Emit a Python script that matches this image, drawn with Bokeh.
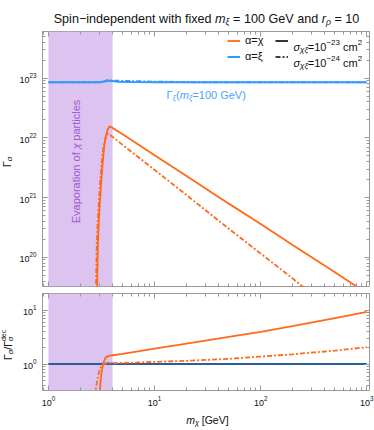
import math
from bokeh.plotting import figure
from bokeh.models import (Range1d, LogAxis, LogTicker, FixedTicker, BoxAnnotation, Label, Legend,
                          LegendItem, CustomJSTickFormatter)
from bokeh.layouts import column, row
from bokeh.embed import file_html
from bokeh.resources import INLINE

# ---------------- data ----------------
# top panel: Gamma_alpha for alpha = chi (sigma = 1e-23 solid, 1e-24 dash-dot)
m_chi_s = [2.85, 2.88, 2.92, 2.98, 3.06, 3.15, 3.25, 3.35, 3.47, 3.60, 3.75, 3.90,
           5, 10, 20, 50, 100, 200, 500, 1000]
g_chi_s = [1.0e19, 4.0e19, 1.6e20, 4.0e20, 8.9e20, 2.0e21, 4.0e21, 7.1e21, 1.07e22,
           1.35e22, 1.55e22, 1.51e22, 1.15e22, 5.1e21, 2.3e21, 7.9e20, 3.6e20,
           1.6e20, 5.6e19, 2.5e19]
m_chi_d = [2.78, 2.81, 2.85, 2.91, 2.99, 3.08, 3.18, 3.30, 3.42, 3.55, 3.67, 3.80,
           5, 10, 20, 50, 100, 200, 500, 1000]
g_chi_d = [1.0e19, 4.0e19, 1.6e20, 4.0e20, 8.9e20, 2.0e21, 4.0e21, 7.1e21, 9.5e21,
           1.12e22, 1.17e22, 1.12e22, 7.6e21, 2.9e21, 1.1e21, 3.0e20, 1.15e20,
           4.4e19, 1.2e19, 4.6e18]
# top panel: Gamma_alpha for alpha = xi
m_xi = [1, 2, 3, 3.3, 3.6, 4.0, 4.5, 6, 10, 30, 100, 1000]
g_xi_s = [8.5e22, 8.5e22, 8.5e22, 8.7e22, 9.0e22, 8.9e22, 8.7e22, 8.6e22, 8.5e22, 8.5e22, 8.5e22, 8.5e22]
g_xi_d = [8.5e22, 8.5e22, 8.5e22, 8.8e22, 9.2e22, 9.1e22, 9.0e22, 8.9e22, 8.7e22, 8.5e22, 8.5e22, 8.5e22]

# bottom panel: Gamma_alpha / Gamma_alpha^dec
m_rat_s = [3.02, 3.07, 3.12, 3.18, 3.27, 3.38, 3.5, 3.7, 4.0, 5, 10, 20, 50, 100, 200, 500, 1000]
r_chi_s = [0.25, 0.38, 0.55, 0.75, 1.0, 1.22, 1.35, 1.42, 1.46, 1.55, 1.93, 2.4, 3.2, 3.98, 5.07, 7.16, 9.29]
m_rat_d = [2.72, 2.78, 2.85, 2.93, 3.02, 3.12, 3.22, 3.35, 3.6, 4.0, 5, 10, 20, 50, 100, 200, 500, 1000]
r_chi_d = [0.25, 0.33, 0.45, 0.6, 0.75, 0.88, 0.97, 1.01, 1.03, 1.04, 1.05, 1.1, 1.15, 1.25, 1.38, 1.52, 1.78, 2.06]
r_xi_s = [1.0, 1.0, 1.0, 1.02, 1.04, 1.03, 1.01, 1.0, 1.0, 1.0, 1.0, 1.0]
r_xi_d = [1.0, 1.0, 1.0, 1.0, 1.0, 1.0, 1.0, 1.0, 1.0, 1.0, 1.0, 1.0]

evap_lo, evap_hi = 1.0, 4.02

# tick positions
ratio_major = [1, 10]
ratio_minor = [0.4, 0.5, 0.6, 0.7, 0.8, 0.9, 2, 3, 4, 5, 6, 7, 8, 9, 20]

# ---------------- styles ----------------
FONT = "Liberation Sans"
ORANGE = "#ff6a1a"
BLUE = "#3399ff"
DARKBLUE = "#2c5c9c"
PURPLE_FILL = "#ddc3ef"
PURPLE_TEXT = "#a259d9"
FRAME = "#999999"
DASH = "5 2 2 2"

W = {' ': .278, '(': .333, ')': .333, '/': .278, '=': .584, '−': .584, '[': .278, ']': .278,
     'G': .778, 'S': .667, 'V': .667, 'E': .667,
     'a': .556, 'c': .5, 'd': .556, 'e': .556, 'f': .278, 'h': .556, 'i': .222, 'l': .222,
     'm': .833, 'n': .556, 'o': .556, 'p': .556, 'r': .333, 's': .5, 't': .278, 'v': .5,
     'w': .722, 'x': .5, 'Γ': .556, 'α': .578, 'ξ': .46, 'ρ': .576, 'χ': .5, 'σ': .6}


def tw(s, size):
    return sum(W.get(ch, 0.556) for ch in s) * size


def rich(fig, x, y, pieces, ox, oy, center=True, angle=0.0, color="#111111"):
    total = sum(tw(p[0], p[1]) for p in pieces if (len(p) < 5 or p[4]))
    pos = -total / 2 if center else 0.0
    for p in pieces:
        t, s, st, dy = p[0], p[1], p[2], p[3]
        adv = p[4] if len(p) > 4 else True
        lead = len(t) - len(t.lstrip())
        start = pos + tw(t[:lead], s)
        if angle == 0:
            xo, yo = ox + start, oy + dy
        else:
            xo, yo = ox - dy, oy + start
        fig.add_layout(Label(x=x, y=y, x_offset=xo, y_offset=yo, text=t.strip(), angle=angle,
                             text_font=FONT, text_font_size=f"{s}px", text_font_style=st,
                             text_color=color, text_baseline="alphabetic", text_align="left"))
        if adv:
            pos += tw(t, s)


def text_fig(w, h):
    f = figure(width=w, height=h, x_range=Range1d(0, w), y_range=Range1d(0, h),
               output_backend="svg", toolbar_location=None, x_axis_location=None,
               y_axis_location=None, min_border_left=0, min_border_right=0,
               min_border_top=0, min_border_bottom=0)
    f.grid.visible = False
    f.outline_line_color = None
    return f


def style_axis(ax, show, major=None, minor=None):
    if major is None:
        ax.ticker = LogTicker(num_minor_ticks=10)
    else:
        ax.ticker = FixedTicker(ticks=major, minor_ticks=minor)
    ax.major_tick_in = 5
    ax.major_tick_out = 0
    ax.minor_tick_in = 3
    ax.minor_tick_out = 0
    ax.major_tick_line_color = FRAME
    ax.minor_tick_line_color = FRAME
    ax.axis_line_color = None
    if show:
        ax.major_label_text_font = FONT
        ax.major_label_text_font_size = "9px"
        ax.major_label_text_color = "#111111"
    else:
        ax.formatter = CustomJSTickFormatter(code="return '';")
        ax.major_label_standoff = 0


YLAB_W = 16
FIG_W = 374 - YLAB_W


def make_fig(h, yr, bt, bb):
    f = figure(width=FIG_W, height=h, x_axis_type="log", y_axis_type="log", x_range=x_rng,
               y_range=yr, output_backend="svg", toolbar_location=None,
               min_border_left=42 - YLAB_W, min_border_right=5, min_border_top=bt,
               min_border_bottom=bb)
    f.grid.visible = False
    f.outline_line_color = FRAME
    f.outline_line_width = 1
    f.add_layout(LogAxis(), "above")
    f.add_layout(LogAxis(), "right")
    f.add_layout(BoxAnnotation(left=evap_lo, right=evap_hi, fill_color=PURPLE_FILL, fill_alpha=1,
                               line_alpha=0, level="underlay"))
    return f


x_rng = Range1d(10 ** -0.0564, 10 ** 3.025)

# ---------------- title ----------------
title_fig = text_fig(374, 29)
rich(title_fig, 206, 10.5, [("Spin−independent with fixed ", 12.6, "normal", 0),
                            ("m", 12.6, "italic", 0), ("ξ", 8.7, "italic", -3),
                            (" = 100 GeV and ", 12.6, "normal", 0),
                            ("r", 12.6, "italic", 0), ("ρ", 8.7, "italic", -3),
                            (" = 10", 12.6, "normal", 0)], 0, 0)

# ---------------- top panel ----------------
top = make_fig(260, Range1d(10 ** 19.51, 10 ** 23.78), 2, 3)
for ax in top.xaxis:
    style_axis(ax, False)
for ax in top.yaxis:
    style_axis(ax, ax in top.left)
top.yaxis[0].major_label_standoff = 6

r_os = top.line(m_chi_s, g_chi_s, color=ORANGE, line_width=1.8)
top.line(m_chi_d, g_chi_d, color=ORANGE, line_width=1.8, line_dash=DASH)
r_bs = top.line(m_xi, g_xi_s, color=BLUE, line_width=2)
top.line(m_xi, g_xi_d, color=BLUE, line_width=2, line_dash=DASH)
# legend keys for the two cross sections (style only, not drawn in the frame)
r_k1 = top.line(m_chi_s, g_chi_s, color="black", line_width=1.6, visible=False)
r_k2 = top.line(m_chi_d, g_chi_d, color="black", line_width=1.6, line_dash=DASH, visible=False)

legA = Legend(items=[LegendItem(label="α=χ", renderers=[r_os]),
                     LegendItem(label="α=ξ", renderers=[r_bs])],
              location=(185, 223.5))
legB = Legend(items=[LegendItem(label=" ", renderers=[r_k1]),
                     LegendItem(label=" ", renderers=[r_k2])],
              location=(233, 223.5))
for lg in (legA, legB):
    lg.background_fill_alpha = 0
    lg.border_line_alpha = 0
    lg.label_text_font = FONT
    lg.label_text_font_size = "11px"
    lg.label_text_color = "#111111"
    lg.glyph_width = 13
    lg.glyph_height = 13
    lg.label_height = 13
    lg.label_width = 5
    lg.label_standoff = 5
    lg.spacing = 3
    lg.padding = 0
    lg.margin = 0
    top.add_layout(lg)

xs = x_rng.start
t_y0, t_y1 = top.y_range.start, top.y_range.end

# legend B texts with sub/superscripts
for row_base, exp in ((-15.5, "−23"), (-31, "−24")):
    rich(top, xs, t_y1, [("σ", 11, "italic", 0), ("χξ", 8, "italic", -2.5),
                         ("=10", 11, "normal", 0), (exp, 8, "normal", 4.5),
                         (" cm", 11, "normal", 0), ("2", 8, "normal", 4.5)],
         251, row_base, center=False)

# Gamma_xi label
rich(top, xs, t_y1, [("Γ", 11, "normal", 0), ("ξ", 7.5, "italic", -2.5), ("(", 11, "normal", 0),
                     ("m", 11, "italic", 0), ("ξ", 7.5, "italic", -2.5),
                     ("=100 GeV)", 11, "normal", 0)], 124, -63.5, center=False, color="#4aa3ff")

# evaporation label
rich(top, xs, t_y0, [("Evaporation of ", 11, "normal", 0), ("χ", 11, "italic", 0),
                     (" particles", 11, "normal", 0)], 33.5, 125, angle=math.pi / 2,
     color=PURPLE_TEXT)

ylab_top = text_fig(YLAB_W, 260)
rich(ylab_top, 6.5, 127, [("Γ", 11, "normal", 0), ("α", 8, "italic", -2.5)], 0, 0,
     angle=math.pi / 2)

# ---------------- bottom panel ----------------
bot = make_fig(119, Range1d(10 ** -0.49, 10 ** 1.31), 4, 16)
for ax in bot.xaxis:
    style_axis(ax, ax in bot.below)
for ax in bot.yaxis:
    style_axis(ax, ax in bot.left, ratio_major, ratio_minor)
bot.yaxis[0].major_label_standoff = 6
bot.xaxis[0].major_label_standoff = 3

bot.line(m_xi, r_xi_s, color=BLUE, line_width=2)
bot.line(m_xi, r_xi_d, color=DARKBLUE, line_width=2)
bot.line(m_rat_s, r_chi_s, color=ORANGE, line_width=1.8)
bot.line(m_rat_d, r_chi_d, color=ORANGE, line_width=1.8, line_dash=DASH)

ylab_bot = text_fig(YLAB_W, 119)
rich(ylab_bot, 7, 56, [("Γ", 10.5, "normal", 0), ("α", 7.5, "italic", -2.5),
                       ("/Γ", 10.5, "normal", 0), ("α", 7.5, "italic", -2.5, False),
                       ("dec", 7, "normal", 4.0)], 0, 0, angle=math.pi / 2)

xlab = text_fig(374, 22)
rich(xlab, 207, 11, [("m", 10.5, "italic", 0), ("χ", 7.5, "italic", -2.5),
                     (" [GeV]", 10.5, "normal", 0)], 0, 0)

layout = column(title_fig, row(ylab_top, top), row(ylab_bot, bot), xlab)
open("out.html", "w").write(file_html(layout, INLINE))
